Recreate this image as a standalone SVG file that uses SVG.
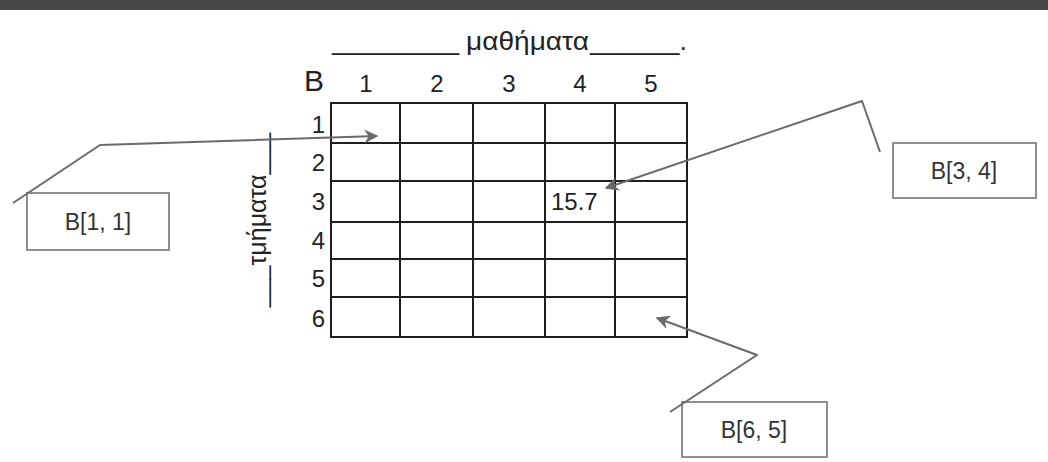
<svg xmlns="http://www.w3.org/2000/svg" width="1048" height="462" viewBox="0 0 1048 462">
<defs>
<style>
.t{font-family:"Liberation Sans","DejaVu Sans",sans-serif;fill:#222}
.d{font-size:24px}
.lbl{font-size:23px;text-anchor:middle;fill:#333}
.box{fill:#fff;stroke:#8e8e8e;stroke-width:2}
.grid{fill:none;stroke:#1e1e1e;stroke-width:2}
.conn{fill:none;stroke:#6a6a6a;stroke-width:2;stroke-linejoin:round}
</style>
<marker id="ah" viewBox="0 0 10 10" refX="9" refY="5" markerWidth="7" markerHeight="7" orient="auto" markerUnits="strokeWidth">
<path d="M0,0 L10,5 L0,10 L3,5 Z" fill="#6a6a6a"/>
</marker>
</defs>
<rect x="0" y="0" width="1048" height="10" fill="#454545"/>
<g id="header">
<text class="t" font-size="26" y="50"><tspan x="332" textLength="127" lengthAdjust="spacingAndGlyphs">_________</tspan><tspan x="466" textLength="123" lengthAdjust="spacingAndGlyphs">μαθήματα</tspan><tspan x="590" textLength="97" lengthAdjust="spacingAndGlyphs">______.</tspan></text>
</g>
<g id="side-label">
<text class="t" font-size="25" text-anchor="middle" transform="translate(266,220) rotate(-90)">___τμήματα___</text>
</g>
<g id="array-B">
<text class="t" font-size="30" x="304" y="91">B</text>
<g class="t d" text-anchor="middle">
<text x="366" y="92">1</text>
<text x="437" y="92">2</text>
<text x="509" y="92">3</text>
<text x="580" y="92">4</text>
<text x="651" y="92">5</text>
</g>
<g class="t d" text-anchor="end">
<text x="325" y="133">1</text>
<text x="325" y="171">2</text>
<text x="325" y="210">3</text>
<text x="325" y="249">4</text>
<text x="325" y="287">5</text>
<text x="325" y="327">6</text>
</g>
<rect class="grid" x="331" y="103" width="356" height="234"/>
<path class="grid" d="M400,103V337M473,103V337M545,103V337M615,103V337M331,143H687M331,181H687M331,222H687M331,259H687M331,297H687"/>
<text class="t d" x="551" y="210">15.7</text>
</g>
<g id="box-b11">
<rect class="box" x="27" y="193" width="142" height="57"/>
<text class="t lbl" x="98" y="230">B[1, 1]</text>
</g>
<g id="box-b34">
<rect class="box" x="893" y="143" width="143" height="55"/>
<text class="t lbl" x="964" y="179">B[3, 4]</text>
</g>
<g id="box-b65">
<rect class="box" x="682" y="402" width="145" height="55"/>
<text class="t lbl" x="754" y="438">B[6, 5]</text>
</g>
<g id="connectors">
<polyline class="conn" points="13,203 100,145 377,136" marker-end="url(#ah)"/>
<polyline class="conn" points="880,152 862,101 606,188" marker-end="url(#ah)"/>
<polyline class="conn" points="670,412 757,355 657,318" marker-end="url(#ah)"/>
</g>
</svg>
